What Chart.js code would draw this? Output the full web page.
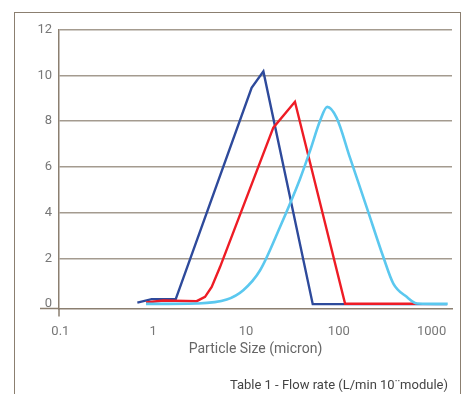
<!DOCTYPE html>
<html>
<head>
<meta charset="utf-8">
<script src="https://cdn.jsdelivr.net/npm/chart.js@4"></script>
<style>
  html, body { margin: 0; padding: 0; background: #fff; }
  #wrap { position: relative; width: 465px; height: 394px; overflow: hidden; }
  #frame { position: absolute; left: 14px; top: 12px; width: 445px; height: 400px; border: 1.5px solid #8b7f70; }
  #chart { position: absolute; left: 0; top: 0; }
  #caption { position: absolute; right: 17px; top: 377px; font: 13px Roboto, sans-serif; color: #444; white-space: nowrap; }
</style>
</head>
<body>
<div id="wrap">
  <div id="frame"></div>
  <canvas id="chart" width="465" height="394"></canvas>
  <div id="caption">Table 1 - Flow rate (L/min 10¨module)</div>
</div>
<script>
// particle size (micron) / flow rate values
const darkSize = [0.675, 0.964, 1.75, 11.5, 15.4, 52.4, 1466];
const darkFlow = [0.07, 0.22, 0.22, 9.45, 10.17, 0.0, 0.0];

const redSize = [0.836, 1.29, 2.94, 3.62, 4.27, 5.25, 19.7, 33.7, 117, 690];
const redFlow = [0.07, 0.16, 0.13, 0.32, 0.75, 1.62, 7.71, 8.84, 0.02, 0.02];

const lightSize = [0.836, 2.94, 6.2, 9.35, 14.2, 23.2, 38.2, 49, 62.7, 75.1, 94.9, 132, 200, 302, 387, 539, 702, 1493];
const lightFlow = [0.01, 0.03, 0.2, 0.61, 1.48, 3.36, 5.47, 6.7, 8.0, 8.62, 8.14, 6.4, 4.23, 2.06, 0.9, 0.32, 0.03, 0.01];

const xTicks = [0.1, 1, 10, 100, 1000];
const yTicks = [0, 2, 4, 6, 8, 10, 12];

const toPoints = (xs, ys) => xs.map((x, i) => ({ x, y: ys[i] }));

const axisColor = "#8b7f70";

const axisExtend = {
    id: "axisExtend",
    afterDraw(chart) {
        const { ctx, chartArea } = chart;
        ctx.save();
        ctx.strokeStyle = axisColor;
        ctx.lineWidth = 1.5;
        ctx.beginPath();
        ctx.moveTo(40, chartArea.bottom);
        ctx.lineTo(chartArea.left, chartArea.bottom);
        ctx.moveTo(chartArea.left, chartArea.bottom);
        ctx.lineTo(chartArea.left, chartArea.bottom + 8);
        ctx.stroke();
        ctx.restore();
    },
};

new Chart(document.getElementById("chart"), {
    type: "line",
    data: {
        datasets: [
            {
                label: "light",
                data: toPoints(lightSize, lightFlow),
                borderColor: "#5bc8ef",
                borderWidth: 2.6,
                cubicInterpolationMode: "monotone",
                pointRadius: 0,
                fill: false,
            },
            {
                label: "red",
                data: toPoints(redSize, redFlow),
                borderColor: "#ee1c25",
                borderWidth: 2.4,
                tension: 0,
                pointRadius: 0,
                fill: false,
            },
            {
                label: "dark",
                data: toPoints(darkSize, darkFlow),
                borderColor: "#2e4a9b",
                borderWidth: 2.4,
                tension: 0,
                pointRadius: 0,
                fill: false,
            },
        ],
    },
    options: {
        responsive: false,
        animation: false,
        layout: { padding: { left: 0, right: 13, top: 29.5, bottom: 36 } },
        plugins: {
            legend: { display: false },
            tooltip: { enabled: false },
        },
        scales: {
            x: {
                type: "logarithmic",
                min: 0.0966,
                max: 1660,
                afterBuildTicks: (scale) => { scale.ticks = xTicks.map((v) => ({ value: v })); },
                afterFit: (scale) => { scale.height = 49.5; },
                ticks: {
                    autoSkip: false,
                    maxRotation: 0,
                    padding: 15,
                    color: "#777",
                    font: { family: "Roboto", size: 13 },
                    callback: (v) => String(v),
                },
                grid: { display: false, drawTicks: false },
                border: { display: true, color: axisColor, width: 1.5 },
                title: {
                    display: true,
                    text: "Particle Size (micron)",
                    color: "#666",
                    font: { family: "Roboto", size: 14 },
                    padding: { top: 4, bottom: 0 },
                },
            },
            y: {
                min: -0.19,
                max: 12,
                afterBuildTicks: (scale) => { scale.ticks = yTicks.map((v) => ({ value: v })); },
                afterFit: (scale) => { scale.width = 59; },
                ticks: {
                    padding: 7,
                    color: "#777",
                    font: { family: "Roboto", size: 13 },
                },
                grid: {
                    drawTicks: false,
                    color: (c) => (c.tick && c.tick.value === 0 ? "rgba(0,0,0,0)" : "#a49b8f"),
                    lineWidth: 1.4,
                },
                border: { display: true, color: axisColor, width: 1.5 },
            },
        },
    },
    plugins: [axisExtend],
});
</script>
</body>
</html>
